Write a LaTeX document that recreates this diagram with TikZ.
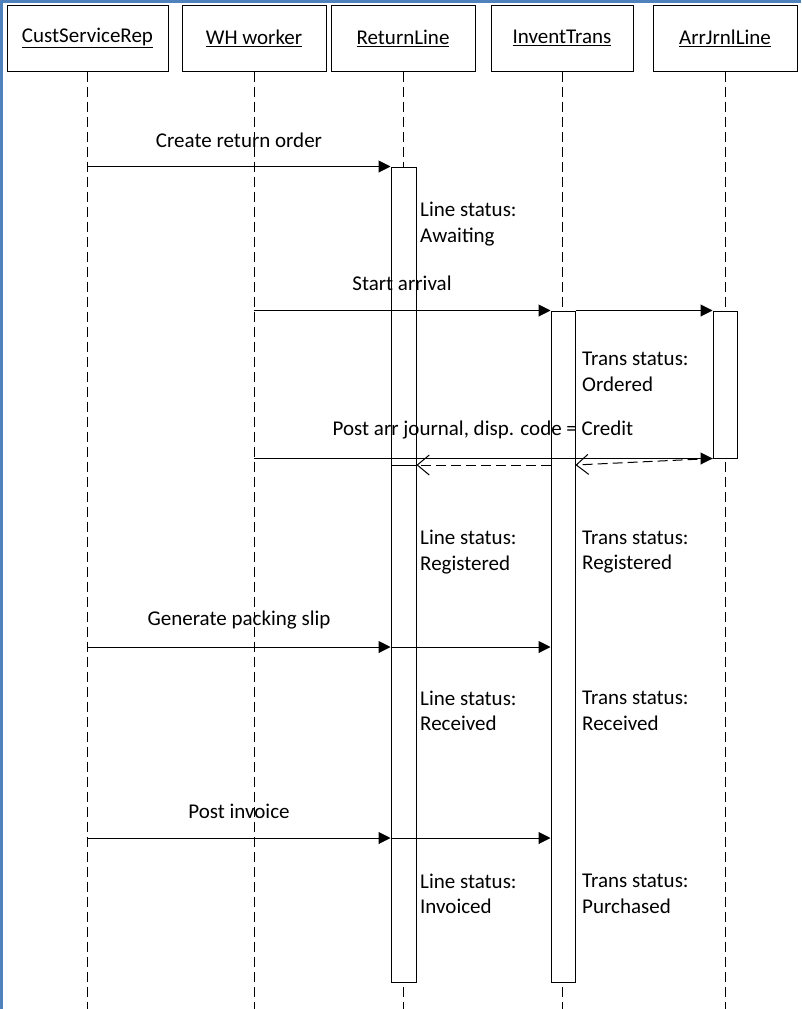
\documentclass[tikz,border=0pt]{standalone}
\usepackage{fontspec}
\setmainfont{Carlito}
\usetikzlibrary{arrows.meta}
\definecolor{framecol}{RGB}{79,129,189}
\begin{document}
\begin{tikzpicture}[x=1pt,y=-1pt,
  font=\fontsize{21}{25.5}\selectfont,
  hdr/.style={draw,line width=1pt,fill=white,minimum height=66pt,inner sep=0pt},
  act/.style={draw,line width=1pt,fill=white,inner sep=0pt,minimum width=24pt},
  life/.style={line width=1pt,dash pattern=on 10pt off 5pt},
  msg/.style={line width=1pt,-{Triangle[length=12pt,width=12pt]}},
  ret/.style={line width=1pt,dash pattern=on 10pt off 5pt,-{Straight Barb[length=12pt,width=20pt]}},
  status/.style={anchor=west,align=left,inner sep=0pt},
  lbl/.style={inner sep=0pt}]
\useasboundingbox (0,0) rectangle (801,1009);

% window frame
\draw[framecol,line width=3pt] (1.5,1009) -- (1.5,1.5) -- (801,1.5);

% lifeline heads
\node[hdr,minimum width=161pt] (csr) at (87.5,38) {\underline{CustServiceRep}};
\node[hdr,minimum width=144pt] (wh)  at (254,38)  {\underline{WH worker}};
\node[hdr,minimum width=144pt] (rl)  at (403,38)  {\underline{ReturnLine}};
\node[hdr,minimum width=142pt] (it)  at (562,38)  {\underline{InventTrans}};
\node[hdr,minimum width=144pt] (aj)  at (725,38)  {\underline{ArrJrnlLine}};

% bottom edge and message rows
\coordinate (bottom) at (0,1009);
\coordinate (rety) at (0,465);
\coordinate (gy) at (0,647);
\coordinate (iy) at (0,838);

% lifelines
\foreach \n in {csr,wh,rl,it,aj}
  \draw[life] (\n.south) -- (\n.south |- bottom);

% activation bars
\node[act,minimum width=25pt,minimum height=815pt] (rlA) at (403.5,574.5) {};
\node[act,minimum height=671pt] (itA) at (563,646.5) {};
\node[act,minimum height=147pt] (ajA) at (725,384.5) {};

% messages
\draw[msg] (csr.south |- rlA.north) -- (rlA.north west);
\node[lbl] (m1) at (239,140) {Create return order};

\draw[msg] (wh.south |- itA.north) -- (itA.north west);
\draw[msg] (itA.north east) -- (ajA.north west);
\node[lbl] (m2) at (402,283) {Start arrival};

\draw[msg] (wh.south |- ajA.south) -- (ajA.south west);
\node[lbl] (m3) at (483,430) {Post arr journal, disp. code = Credit};
\draw[ret] (ajA.south west) -- (itA.east |- rety);
\draw[ret] (itA.west |- rety) -- (rlA.east |- rety);
\draw[line width=1pt] (rlA.west |- rety) -- (rlA.east |- rety);

\draw[msg] (csr.south |- gy) -- (rlA.west |- gy);
\draw[msg] (rlA.west |- gy) -- (itA.west |- gy);
\node[lbl] (m4) at (239,620) {Generate packing slip};

\draw[msg] (csr.south |- iy) -- (rlA.west |- iy);
\draw[msg] (rlA.west |- iy) -- (itA.west |- iy);
\node[lbl] (m5) at (239,811) {Post invoice};

% status notes
\node[status] (s1) at (420,224) {Line status:\\Awaiting};
\node[status] (s2) at (582,372) {Trans status:\\Ordered};
\node[status] (s3) at (420,552) {Line status:\\Registered};
\node[status] (s4) at (582,552) {Trans status:\\Registered};
\node[status] (s5) at (420,711) {Line status:\\Received};
\node[status] (s6) at (582,711) {Trans status:\\Received};
\node[status] (s7) at (420,894) {Line status:\\Invoiced};
\node[status] (s8) at (582,894) {Trans status:\\Purchased};
\end{tikzpicture}
\end{document}
